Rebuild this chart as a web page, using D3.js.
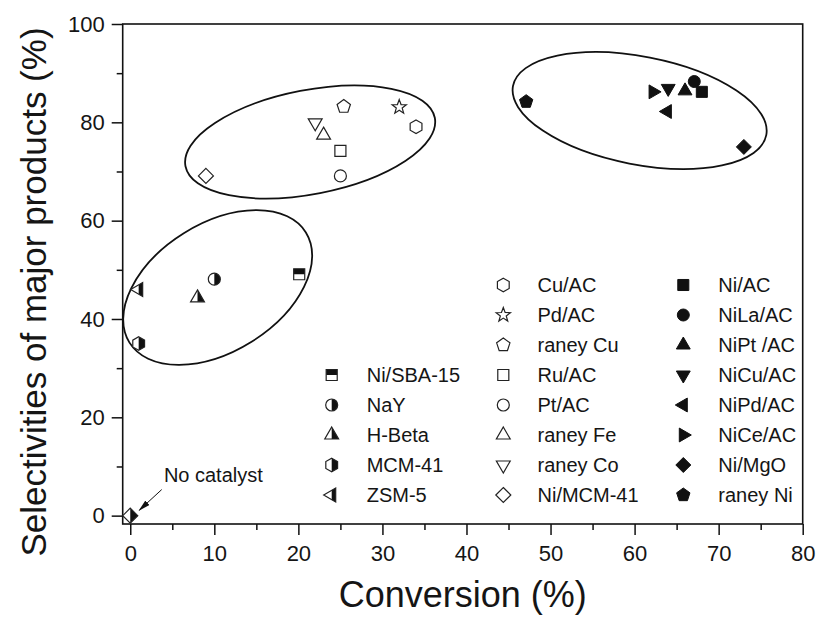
<!DOCTYPE html>
<html lang="en">
<head>
<meta charset="UTF-8">
<title>Conversion vs selectivity of catalysts</title>
<style>
  body { margin: 0; background: #fff; }
  svg text { font-family: 'Liberation Sans', Arial, sans-serif; fill: #151515; }
</style>
</head>
<body>
<svg id="chart" width="818" height="618"></svg>
<script src="https://d3js.org/d3.v7.min.js"></script>
<script>
// ---- data ----
const catalysts = ["Ni/SBA-15", "NaY", "H-Beta", "MCM-41", "ZSM-5",
  "Cu/AC", "Pd/AC", "raney Cu", "Ru/AC", "Pt/AC", "raney Fe", "raney Co", "Ni/MCM-41",
  "Ni/AC", "NiLa/AC", "NiPt /AC", "NiCu/AC", "NiPd/AC", "NiCe/AC", "Ni/MgO", "raney Ni"];
const conversion = [20.1, 10.0, 8.0, 1.0, 1.0,
  34.0, 32.0, 25.4, 25.0, 25.0, 23.0, 22.0, 9.0,
  68.0, 67.1, 66.0, 64.0, 63.9, 62.2, 73.0, 47.1];
const selectivity = [49.1, 48.1, 44.3, 35.0, 46.0,
  79.1, 83.1, 83.2, 74.2, 69.1, 77.4, 79.9, 69.1,
  86.2, 88.3, 86.4, 86.9, 82.2, 86.2, 75.0, 84.2];
const shapes = ["square", "circle", "triUp", "hexagon", "triLeft",
  "hexagon", "star", "pentagon", "square", "circle", "triUp", "triDown", "diamond",
  "square", "circle", "triUp", "triDown", "triLeft", "triRight", "diamond", "pentagon"];
const fills = ["top", "right", "right", "right", "right",
  "open", "open", "open", "open", "open", "open", "open", "open",
  "solid", "solid", "solid", "solid", "solid", "solid", "solid", "solid"];
const groups = [0, 0, 0, 0, 0, 1, 1, 1, 1, 1, 1, 1, 1, 2, 2, 2, 2, 2, 2, 2, 2];

const noCatalyst = [0, 0];          // conversion, selectivity
const noCatalystLabel = "No catalyst";

// cluster rings (centres in data units)
const ringCx = [10.4, 21.4, 60.6];
const ringCy = [46.4, 76.0, 82.4];

const xTicks = [0, 10, 20, 30, 40, 50, 60, 70, 80];
const xMinor = [5, 15, 25, 35, 45, 55, 65, 75];
const yTicks = [0, 20, 40, 60, 80, 100];
const yMinor = [10, 30, 50, 70, 90];

// ---- layout ----
const W = 818, H = 618;
const m = {left: 122.7, right: 15.3, top: 24, bottom: 94};
const svg = d3.select("#chart");

const x = d3.scaleLinear().domain([-0.9, 80]).range([m.left, W - m.right]);
const y = d3.scaleLinear().domain([-1.7, 100]).range([H - m.bottom, m.top]);

// ring sizes in px + tilt (deg)
const ringRx = [104, 127, 129], ringRy = [64, 52, 54], ringTilt = [-32, -11, 11];

// ---- marker shapes ----
function poly(n, r, start) {
  const pts = d3.range(n).map(i => {
    const a = start + i * 2 * Math.PI / n;
    return [r * Math.cos(a), r * Math.sin(a)];
  });
  return "M" + pts.map(p => p[0].toFixed(2) + "," + p[1].toFixed(2)).join("L") + "Z";
}
function star(ro, ri) {
  const pts = d3.range(10).map(i => {
    const a = -Math.PI / 2 + i * Math.PI / 5, r = i % 2 ? ri : ro;
    return [r * Math.cos(a), r * Math.sin(a)];
  });
  return "M" + pts.map(p => p[0].toFixed(2) + "," + p[1].toFixed(2)).join("L") + "Z";
}
const shapePath = {
  square: poly(4, 7.8, Math.PI / 4),
  diamond: poly(4, 7.5, -Math.PI / 2),
  triUp: poly(3, 8, -Math.PI / 2),
  triDown: poly(3, 8, Math.PI / 2),
  triLeft: poly(3, 8, Math.PI),
  triRight: poly(3, 8, 0),
  pentagon: poly(5, 7, -Math.PI / 2),
  hexagon: poly(6, 6.8, -Math.PI / 2),
  star: star(7.5, 3.1),
  circle: "M6,0A6,6 0 1,1 -6,0A6,6 0 1,1 6,0Z"
};

const defs = svg.append("defs");
defs.append("clipPath").attr("id", "half-right")
  .append("rect").attr("x", 0).attr("y", -20).attr("width", 20).attr("height", 40);
defs.append("clipPath").attr("id", "half-top")
  .append("rect").attr("x", -20).attr("y", -20).attr("width", 40).attr("height", 20);
defs.append("marker").attr("id", "arrow")
  .attr("viewBox", "0 0 12 6").attr("refX", 11).attr("refY", 3)
  .attr("markerWidth", 12).attr("markerHeight", 6)
  .attr("markerUnits", "userSpaceOnUse").attr("orient", "auto")
  .append("path").attr("d", "M0,0L12,3L0,6Z").attr("fill", "#111");

function drawMarker(g, shape, fill) {
  const d = shapePath[shape];
  if (fill === "solid") {
    g.append("path").attr("d", d).attr("fill", "#111").attr("stroke", "#111").attr("stroke-width", 1);
    return;
  }
  g.append("path").attr("d", d).attr("fill", "#fff");
  if (fill === "right" || fill === "top") {
    g.append("path").attr("d", d).attr("fill", "#111")
      .attr("clip-path", `url(#half-${fill})`);
  }
  g.append("path").attr("d", d).attr("fill", "none")
    .attr("stroke", "#222").attr("stroke-width", 1.2);
}

// ---- frame + axes ----
svg.append("rect")
  .attr("x", m.left).attr("y", m.top)
  .attr("width", W - m.left - m.right).attr("height", H - m.top - m.bottom)
  .attr("fill", "none").attr("stroke", "#111").attr("stroke-width", 1.6);

function styleAxis(g) {
  g.select(".domain").remove();
  g.selectAll(".tick line").attr("stroke", "#111").attr("stroke-width", 1.5);
  g.selectAll(".tick text").attr("font-size", 22).attr("fill", "#151515");
}

svg.append("g").attr("transform", `translate(0,${H - m.bottom})`)
  .call(d3.axisBottom(x).tickValues(xTicks).tickSize(11).tickPadding(10).tickFormat(d3.format("d")))
  .call(styleAxis);
svg.append("g").attr("transform", `translate(0,${H - m.bottom})`)
  .call(d3.axisBottom(x).tickValues(xMinor).tickSize(6).tickFormat(""))
  .call(styleAxis);
svg.append("g").attr("transform", `translate(${m.left},0)`)
  .call(d3.axisLeft(y).tickValues(yTicks).tickSize(11).tickPadding(7).tickFormat(d3.format("d")))
  .call(styleAxis);
svg.append("g").attr("transform", `translate(${m.left},0)`)
  .call(d3.axisLeft(y).tickValues(yMinor).tickSize(6).tickFormat(""))
  .call(styleAxis);

svg.append("text")
  .attr("x", (m.left + W - m.right) / 2).attr("y", 607)
  .attr("text-anchor", "middle").attr("font-size", 36)
  .text("Conversion (%)");
svg.append("text")
  .attr("transform", `translate(46,${(m.top + H - m.bottom) / 2 + 18}) rotate(-90)`)
  .attr("text-anchor", "middle").attr("font-size", 35)
  .text("Selectivities of major products (%)");

// ---- cluster rings ----
svg.append("g").selectAll("ellipse")
  .data(ringCx)
  .join("ellipse")
    .attr("transform", (d, i) => `translate(${x(d)},${y(ringCy[i])}) rotate(${ringTilt[i]})`)
    .attr("rx", (d, i) => ringRx[i]).attr("ry", (d, i) => ringRy[i])
    .attr("fill", "none").attr("stroke", "#111").attr("stroke-width", 1.8);

// ---- points ----
const pts = svg.append("g");
catalysts.forEach((c, i) => {
  const g = pts.append("g").attr("transform", `translate(${x(conversion[i])},${y(selectivity[i])})`);
  drawMarker(g, shapes[i], fills[i]);
});

// no catalyst point + arrow
drawMarker(pts.append("g").attr("transform", `translate(${x(noCatalyst[0])},${y(noCatalyst[1])})`),
  "diamond", "right");
svg.append("line")
  .attr("x1", x(3.74)).attr("y1", y(5.3))
  .attr("x2", x(1.07)).attr("y2", y(1.1))
  .attr("stroke", "#111").attr("stroke-width", 1)
  .attr("marker-end", "url(#arrow)");
svg.append("text")
  .attr("x", x(4.0)).attr("y", y(6.9))
  .attr("font-size", 20).text(noCatalystLabel);

// ---- legend: three columns (half-filled, open, solid) ----
const legSymX = [331.7, 503.3, 683.3];
const legTextX = [366.7, 537.5, 718.3];
const rowY0 = 285, rowStep = 30, rows = 8;
const leg = svg.append("g");
[0, 1, 2].forEach(col => {
  const idx = catalysts.map((c, i) => i).filter(i => groups[i] === col);
  const start = rows - idx.length;
  idx.forEach((i, k) => {
    const ry = rowY0 + (start + k) * rowStep;
    drawMarker(leg.append("g").attr("transform", `translate(${legSymX[col]},${ry})`), shapes[i], fills[i]);
    leg.append("text").attr("x", legTextX[col]).attr("y", ry + 7.3)
      .attr("font-size", 20).text(catalysts[i]);
  });
});
</script>
</body>
</html>
